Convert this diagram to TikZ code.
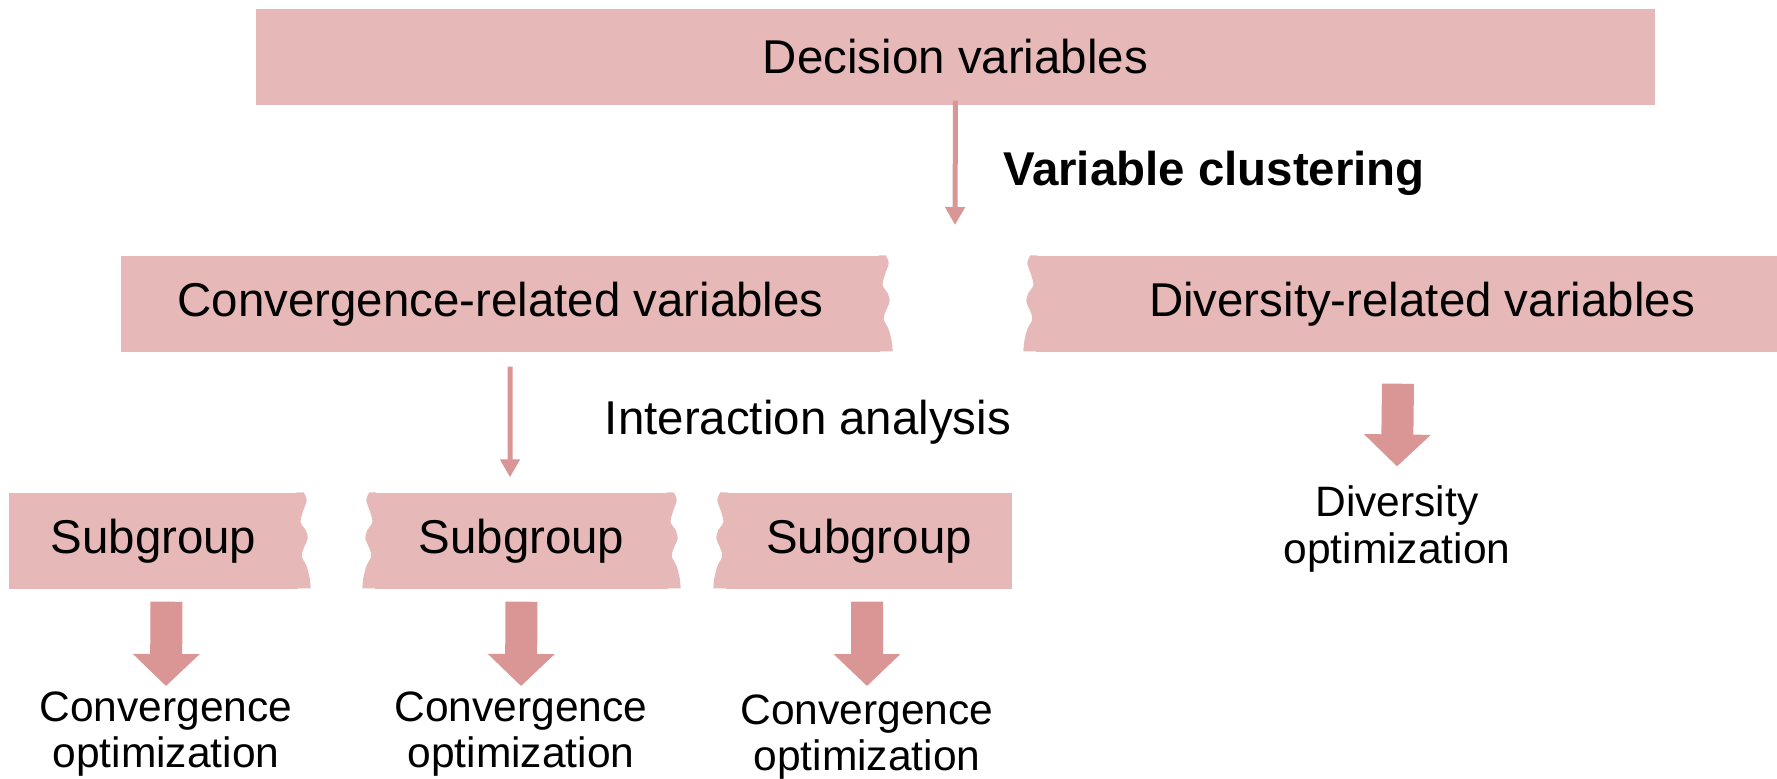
\documentclass[tikz,border=0pt]{standalone}
\usepackage{fontspec}
\setmainfont{Liberation Sans}
\usetikzlibrary{arrows.meta}

\definecolor{boxpink}{HTML}{E6B8B7}
\definecolor{arrowpink}{HTML}{D99694}
\newcommand{\fsbig}{\fontsize{13.5}{16}\selectfont}
\newcommand{\fssmall}{\fontsize{12.1}{13.1}\selectfont}
% torn side of a box: #1 = top corner, #2 = 1 (right side) or -1 (left side)
\newcommand{\tornedge}[2]{%
  \begin{scope}[shift={(#1)},xscale=#2]
    \fill[boxpink] (-0.02,0) -- plot[smooth] coordinates {(0.05,0) (0.08,-0.08) (0.04,-0.2) (0.02,-0.3) (0.07,-0.38) (0.09,-0.46) (0.05,-0.56) (0.03,-0.64) (0.08,-0.74) (0.11,-0.86) (0.12,-0.96)} -- (-0.02,-0.96) -- cycle;
  \end{scope}}

\begin{document}
\begin{tikzpicture}[
    box/.style={fill=boxpink,minimum height=0.96cm,inner sep=0pt,font=\fsbig},
    lbl/.style={align=center,inner sep=0pt,font=\fssmall},
    thinarrow/.style={draw=arrowpink,line width=0.05cm,-{Triangle[width=0.19cm,length=0.18cm]}},
    blockarrow/.style={draw=arrowpink,line width=0.32cm,-{Triangle[width=0.65cm,length=0.32cm]}}]
  \useasboundingbox (0,0) rectangle (17.77,7.79);

  \node[box,minimum width=13.99cm] (decvar) at (9.555,7.22) {Decision variables};
  \node[box,minimum width=7.59cm] (convvar) at (5.005,4.75) {Convergence-related variables};
  \node[box,minimum width=7.72cm] (divvar) at (14.22,4.75) {Diversity-related variables};
  \node[box,minimum width=2.89cm] (sub1) at (1.535,2.38) {Subgroup};
  \node[box,minimum width=2.93cm] (sub2) at (5.215,2.38) {Subgroup};
  \node[box,minimum width=2.86cm] (sub3) at (8.69,2.38) {Subgroup};

  \tornedge{convvar.north east}{1}
  \tornedge{divvar.north west}{-1}
  \tornedge{sub1.north east}{1}
  \tornedge{sub2.north west}{-1}
  \tornedge{sub2.north east}{1}
  \tornedge{sub3.north west}{-1}

  \node[font=\fsbig\bfseries] (clust) at (12.14,6.06) {Variable clustering};
  \node[font=\fsbig] (interact) at (8.08,3.57) {Interaction analysis};
  \node[lbl] (opt1) at (1.66,0.45) {Convergence\\optimization};
  \node[lbl] (opt2) at (5.21,0.45) {Convergence\\optimization};
  \node[lbl] (opt3) at (8.67,0.42) {Convergence\\optimization};
  \node[lbl] (divopt) at (13.97,2.50) {Diversity\\optimization};
  \coordinate (splitpt) at (9.55,5.54);

  \draw[thinarrow] ([yshift=0.05cm]decvar.south) -- (splitpt);
  \draw[thinarrow] ([xshift=0.095cm,yshift=-0.14cm]convvar.south) -- ([xshift=-0.115cm,yshift=0.15cm]sub2.north);
  \draw[blockarrow] ([xshift=0.13cm,yshift=-0.12cm]sub1.south) -- ([yshift=0.05cm]opt1.north);
  \draw[blockarrow] ([yshift=-0.12cm]sub2.south) -- ([yshift=0.05cm]opt2.north);
  \draw[blockarrow] ([xshift=-0.02cm,yshift=-0.12cm]sub3.south) -- ([yshift=0.08cm]opt3.north);
  \draw[blockarrow] ([xshift=-0.24cm,yshift=-0.31cm]divvar.south) -- ([yshift=0.19cm]divopt.north);
\end{tikzpicture}
\end{document}
